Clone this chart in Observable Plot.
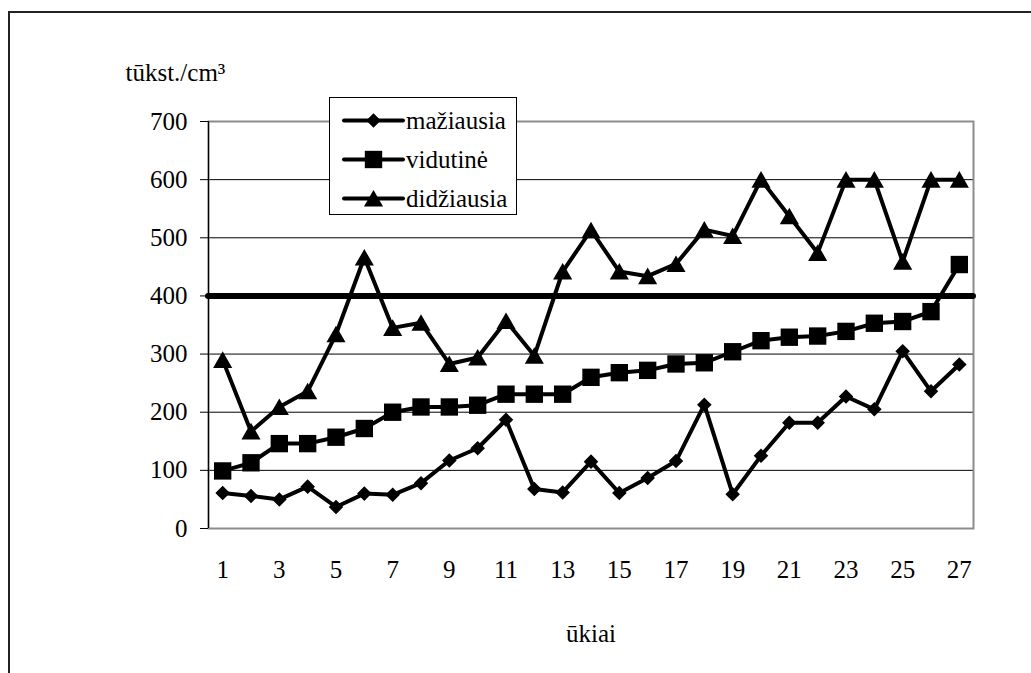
<!DOCTYPE html>
<html>
<head>
<meta charset="utf-8">
<script src="https://cdn.jsdelivr.net/npm/d3@7"></script>
<script src="https://cdn.jsdelivr.net/npm/@observablehq/plot@0.6"></script>
<style>
  html, body { margin: 0; padding: 0; background: #fff; }
  #wrap { position: relative; width: 1031px; height: 673px; overflow: hidden; font-family: "Liberation Serif", "Times New Roman", serif; }
  #border { position: absolute; left: 8px; top: 11px; right: -10px; bottom: -10px; border-left: 2px solid #222; border-top: 2px solid #222; }
  #chart { position: absolute; left: 0; top: 0; }
  #legend { position: absolute; left: 329px; top: 97px; width: 188px; height: 118px; border: 1px solid #000; background: #fff; box-sizing: border-box; }
  .row { position: absolute; left: 0; height: 39px; display: flex; align-items: center; font-size: 25px; color: #000; }
  .row svg { display: block; }
</style>
</head>
<body>
<div id="wrap">
  <div id="border"></div>
  <div id="chart"></div>
  <div id="legend"></div>
</div>
<script>
// Farms (ūkiai) along the x axis
const farms = [1, 2, 3, 4, 5, 6, 7, 8, 9, 10, 11, 12, 13, 14, 15, 16, 17, 18, 19, 20, 21, 22, 23, 24, 25, 26, 27];
const xTickLabels = [1, 3, 5, 7, 9, 11, 13, 15, 17, 19, 21, 23, 25, 27];
const yTicks = [0, 100, 200, 300, 400, 500, 600, 700];

// Somatic cell counts, thousand per cm³
const seriesNames = ["mažiausia", "vidutinė", "didžiausia"];
const minValues = [61, 56, 50, 72, 37, 60, 58, 78, 117, 138, 187, 68, 62, 115, 61, 87, 116, 213, 59, 125, 182, 182, 227, 205, 305, 236, 282];
const avgValues = [99, 113, 146, 146, 157, 172, 200, 209, 209, 212, 231, 231, 231, 260, 268, 272, 283, 285, 304, 323, 329, 331, 339, 353, 356, 373, 454];
const maxValues = [290, 167, 209, 236, 334, 466, 345, 354, 283, 294, 357, 297, 442, 513, 442, 434, 455, 514, 503, 600, 537, 474, 600, 600, 459, 600, 600];

// Limit value drawn as a heavy horizontal rule
const limitValue = 400;

const font = "'Liberation Serif', 'Times New Roman', serif";

// Marker styles per series (Plot symbol name, radius, rotation, vertical offset)
const markers = [
  {symbol: "square", r: 5.8, rotate: 45, dy: 0},
  {symbol: "square", r: 9.8, rotate: 0, dy: 0},
  {symbol: "triangle", r: 7.1, rotate: 0, dy: 2.5}
];

const seriesValues = [minValues, avgValues, maxValues];
const series = seriesNames.map((name, k) => ({
  name,
  marker: markers[k],
  rows: seriesValues[k].map((v, i) => ({farm: farms[i], value: v}))
}));

const marks = [
  Plot.gridY(yTicks.filter(t => t > 0 && t < 700), {stroke: "#000", strokeOpacity: 1, strokeWidth: 1}),
  Plot.frame({stroke: "#8c8c8c", strokeWidth: 2}),
  Plot.ruleX([0.5], {stroke: "#000", strokeWidth: 1.2}),
  Plot.axisY({ticks: yTicks, tickSize: 8, tickPadding: 13, fontSize: 25, label: null}),
  Plot.axisX({ticks: xTickLabels, tickSize: 0, tickPadding: 32, fontSize: 25, label: null}),
  Plot.ruleY([limitValue], {stroke: "#000", strokeWidth: 6, strokeLinecap: "round"})
];

for (const s of series) {
  marks.push(Plot.line(s.rows, {x: "farm", y: "value", stroke: "#000", strokeWidth: 4, strokeLinejoin: "round"}));
  marks.push(Plot.dot(s.rows, {
    x: "farm", y: "value", symbol: () => s.marker.symbol, r: s.marker.r,
    rotate: s.marker.rotate, dy: s.marker.dy, fill: "#000", stroke: "none"
  }));
}

marks.push(Plot.text(["tūkst./cm³"], {text: d => d, frameAnchor: "top-left", textAnchor: "start", lineAnchor: "middle", dx: -83, dy: -49, fontSize: 25, fill: "#000"}));
marks.push(Plot.text(["ūkiai"], {text: d => d, frameAnchor: "bottom", lineAnchor: "middle", dy: 105, fontSize: 25, fill: "#000"}));

const chart = Plot.plot({
  width: 1031,
  height: 673,
  marginLeft: 208,
  marginRight: 58,
  marginTop: 121,
  marginBottom: 145,
  style: {fontFamily: font, fontSize: "25px", color: "#000", background: "transparent", overflow: "visible"},
  x: {type: "linear", domain: [0.5, 27.5]},
  y: {domain: [0, 700]},
  symbol: {type: "identity"},
  marks
});
document.getElementById("chart").appendChild(chart);

// Legend: line swatch with the series marker, then the series name
const legend = d3.select("#legend");
const symbolTypes = {square: d3.symbolSquare, triangle: d3.symbolTriangle};
series.forEach((s, i) => {
  const row = legend.append("div").attr("class", "row").style("top", (3 + 39 * i) + "px");
  const svg = row.append("svg").attr("width", 76).attr("height", 39);
  svg.append("line").attr("x1", 14).attr("x2", 73).attr("y1", 19.5).attr("y2", 19.5)
    .attr("stroke", "#000").attr("stroke-width", 4).attr("stroke-linecap", "round");
  const m = s.marker;
  svg.append("path")
    .attr("d", d3.symbol(symbolTypes[m.symbol], m.r * m.r * Math.PI)())
    .attr("transform", `translate(43.5,${19.5 + m.dy}) rotate(${m.rotate})`)
    .attr("fill", "#000");
  row.append("span").text(s.name);
});
</script>
</body>
</html>
